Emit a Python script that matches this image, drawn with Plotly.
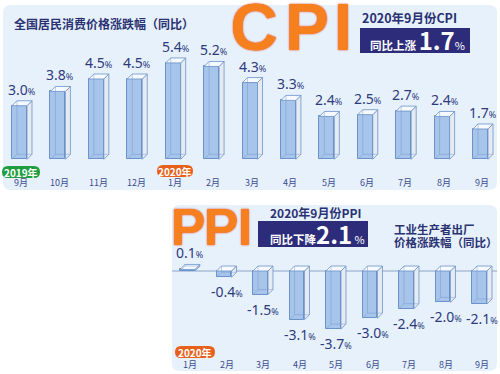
import plotly.graph_objects as go

# ---------------- data ----------------
cpi_months = ["9月", "10月", "11月", "12月", "1月", "2月", "3月", "4月", "5月", "6月", "7月", "8月", "9月"]
cpi_values = [3.0, 3.8, 4.5, 4.5, 5.4, 5.2, 4.3, 3.3, 2.4, 2.5, 2.7, 2.4, 1.7]
cpi_year_marks = {0: "2019年", 4: "2020年"}

ppi_months = ["1月", "2月", "3月", "4月", "5月", "6月", "7月", "8月", "9月"]
ppi_values = [0.1, -0.4, -1.5, -3.1, -3.7, -3.0, -2.4, -2.0, -2.1]
ppi_year_marks = {0: "2020年"}

cpi_title = "全国居民消费价格涨跌幅（同比）"
cpi_head = "2020年9月份CPI"
cpi_box_lead, cpi_box_value = "同比上涨", "1.7"
ppi_head = "2020年9月份PPI"
ppi_box_lead, ppi_box_value = "同比下降", "2.1"
ppi_title_lines = ["工业生产者出厂", "价格涨跌幅（同比）"]

# ---------------- style ----------------
W, H = 500, 374
NAVY = "#2b3172"
BOX = "#2d2c7a"
LABEL = "#2e3a7c"
MONTH = "#3d4b8e"
PANEL = "#e6f1fc"
FRONT = "#a7c5ea"
EDGE = "#6b92c9"
SIDE = "#e6ebf2"
TOP = "#f6f9fd"
ORANGE = "#f7801e"
CJK = "Noto Sans CJK SC"
NUM = "Noto Sans, Noto Sans CJK SC"


def X(p):
    return p / W


def Y(p):
    return 1 - p / H


def rrect(x0, y0, x1, y1, r):
    def P(x, y):
        return f"{X(x):.5f},{Y(y):.5f}"
    return (f"M {P(x0 + r, y0)} L {P(x1 - r, y0)} Q {P(x1, y0)} {P(x1, y0 + r)} "
            f"L {P(x1, y1 - r)} Q {P(x1, y1)} {P(x1 - r, y1)} L {P(x0 + r, y1)} "
            f"Q {P(x0, y1)} {P(x0, y1 - r)} L {P(x0, y0 + r)} Q {P(x0, y0)} {P(x0 + r, y0)} Z")


def note(x, y, text, size, color, family=CJK, xanchor="center", yanchor="middle"):
    return dict(x=X(x), y=Y(y), xref="paper", yref="paper", text=text, showarrow=False,
                xanchor=xanchor, yanchor=yanchor, font=dict(family=family, size=size, color=color))


fig = go.Figure()
shapes = []
annotations = []

# panels
shapes.append(dict(type="path", path=rrect(3, 5, 497, 190, 8), xref="paper", yref="paper",
                   fillcolor=PANEL, line=dict(width=0), layer="below"))
shapes.append(dict(type="path", path=rrect(172, 205, 497, 371, 8), xref="paper", yref="paper",
                   fillcolor=PANEL, line=dict(width=0), layer="below"))


def add_bars(values, xa, ya, width, dx, dy):
    n = len(values)
    xs = list(range(n))
    sx, sy, tx, ty, bx, by = [], [], [], [], [], []
    for i, v in enumerate(values):
        lo, hi = min(0, v), max(0, v)
        xl, xr = i - width / 2, i + width / 2
        sx += [xr, xr + dx, xr + dx, xr, xr, None]
        sy += [lo, lo + dy, hi + dy, hi, lo, None]
        tx += [xl, xr, xr + dx, xl + dx, xl, None]
        ty += [hi, hi, hi + dy, hi + dy, hi, None]
        bx += [xl + dx, xl + dx, xr + dx, None, xl, xl + dx, None]
        by += [hi + dy, lo + dy, lo + dy, None, lo, lo + dy, None]
    fig.add_trace(go.Scatter(x=sx, y=sy, mode="lines", fill="toself", fillcolor=SIDE,
                             line=dict(color=EDGE, width=0.8), xaxis=xa, yaxis=ya, hoverinfo="skip"))
    fig.add_trace(go.Scatter(x=tx, y=ty, mode="lines", fill="toself", fillcolor=TOP,
                             line=dict(color=EDGE, width=0.8), xaxis=xa, yaxis=ya, hoverinfo="skip"))
    fig.add_trace(go.Bar(x=xs, y=values, width=width, marker=dict(color=FRONT, line=dict(color=EDGE, width=1)),
                         xaxis=xa, yaxis=ya, hoverinfo="skip"))
    fig.add_trace(go.Scatter(x=bx, y=by, mode="lines", line=dict(color=EDGE, width=0.6),
                             xaxis=xa, yaxis=ya, hoverinfo="skip", opacity=0.7))


C_W, C_DX, C_DY = 0.39, 0.13, 0.28
add_bars(cpi_values, "x", "y", C_W, C_DX, C_DY)
P_W, P_DX, P_DY = 0.41, 0.137, 0.318
add_bars(ppi_values, "x2", "y2", P_W, P_DX, P_DY)

shapes.append(dict(type="line", xref="paper", yref="y2", x0=X(172), x1=X(497), y0=0, y1=0,
                   line=dict(color="#8ea5c6", width=1), layer="below"))


def pct(v):
    return f"{v:.1f}<span style='font-size:9px'>%</span>"


for i, v in enumerate(cpi_values):
    annotations.append(dict(x=i + C_DX / 2, y=v + C_DY, xref="x", yref="y", text=pct(v), showarrow=False,
                            xanchor="center", yanchor="bottom", yshift=0,
                            font=dict(family=NUM, size=14, color=LABEL)))
    annotations.append(dict(x=i + C_DX / 3, y=Y(183), xref="x", yref="paper", text=cpi_months[i], showarrow=False,
                            xanchor="center", yanchor="middle", font=dict(family=CJK, size=9, color=MONTH)))

for i, v in enumerate(ppi_values):
    if v >= 0:
        annotations.append(dict(x=i + P_DX / 2, y=v + P_DY, xref="x2", yref="y2", text=pct(v), showarrow=False,
                                xanchor="center", yanchor="bottom", yshift=0,
                                font=dict(family=NUM, size=14, color=LABEL)))
    else:
        annotations.append(dict(x=i + P_DX / 2, y=v, xref="x2", yref="y2", text=pct(v), showarrow=False,
                                xanchor="center", yanchor="top", yshift=-3,
                                font=dict(family=NUM, size=14, color=LABEL)))
    annotations.append(dict(x=i + P_DX / 2, y=Y(364), xref="x2", yref="paper", text=ppi_months[i], showarrow=False,
                            xanchor="center", yanchor="middle", font=dict(family=CJK, size=9, color=MONTH)))

badges = [(cpi_year_marks[0], 2, 166, 40, 178, "#1f9d3f"),
          (cpi_year_marks[4], 157, 165, 193, 177, "#e7611d"),
          (ppi_year_marks[0], 175, 346, 215, 358, "#e7611d")]
for txt, x0, y0, x1, y1, col in badges:
    shapes.append(dict(type="path", path=rrect(x0, y0, x1, y1, 6), xref="paper", yref="paper",
                       fillcolor=col, line=dict(width=0)))
    annotations.append(note((x0 + x1) / 2, (y0 + y1) / 2, f"<b>{txt}</b>", 10, "white"))

annotations.append(note(12, 23, f"<b>{cpi_title}</b>", 12, NAVY, xanchor="left"))

# big CPI / PPI letters as a text trace on a pixel-space helper axis
letters = [("C", 254, 33, 66), ("P", 307, 33, 66), ("I", 343, 33, 66),
           ("P", 188, 232, 52), ("P", 221, 232, 52), ("I", 245, 232, 52)]
fig.add_trace(go.Scatter(x=[l[1] for l in letters], y=[l[2] for l in letters], mode="text",
                         text=[f"<b>{l[0]}</b>" for l in letters], textposition="middle center",
                         textfont=dict(family="Liberation Sans", size=[l[3] for l in letters], color=ORANGE,
                                       shadow="0px 0px 2px #e3341b"),
                         xaxis="x3", yaxis="y3", hoverinfo="skip"))

annotations.append(note(360, 18, f"<b>{cpi_head}</b>", 12.5, NAVY, xanchor="left"))
shapes.append(dict(type="rect", xref="paper", yref="paper", x0=X(360), x1=X(470), y0=Y(28), y1=Y(53),
                   fillcolor=BOX, line=dict(width=0), layer="below"))
annotations.append(note(368, 40, f"<b>{cpi_box_lead} </b><span style='font-size:24px'><b>{cpi_box_value}</b></span>"
                                 f"<span style='font-size:11px'>%</span>", 11.5, "white", xanchor="left"))

annotations.append(note(268, 213, f"<b>{ppi_head}</b>", 12, NAVY, xanchor="left"))
shapes.append(dict(type="rect", xref="paper", yref="paper", x0=X(258), x1=X(368), y0=Y(221), y1=Y(247),
                   fillcolor=BOX, line=dict(width=0), layer="below"))
annotations.append(note(268, 234, f"<b>{ppi_box_lead}</b><span style='font-size:24px'><b>{ppi_box_value}</b></span>"
                                  f"<span style='font-size:11px'> %</span>", 11.5, "white", xanchor="left"))
for k, line in enumerate(ppi_title_lines):
    annotations.append(note(392, 229 + 13 * k, f"<b>{line}</b>", 11.5, NAVY, xanchor="left"))

ax = dict(visible=False, fixedrange=True)
fig.update_layout(
    width=W, height=H, autosize=False, margin=dict(l=0, r=0, t=0, b=0, pad=0),
    paper_bgcolor="white", plot_bgcolor="rgba(0,0,0,0)", showlegend=False,
    xaxis=dict(domain=[0, 1], range=[-19.5 / 38.42, 480.5 / 38.42], anchor="y", **ax),
    yaxis=dict(domain=[0, 1], range=[-(374 - 159.3) / 17.85, 159.3 / 17.85], anchor="x", **ax),
    xaxis2=dict(domain=[0, 1], range=[-187.5 / 36.5, 312.5 / 36.5], anchor="y2", **ax),
    yaxis2=dict(domain=[0, 1], range=[-(374 - 271) / 15.7, 271 / 15.7], anchor="x2", **ax),
    xaxis3=dict(domain=[0, 1], range=[0, W], anchor="y3", **ax),
    yaxis3=dict(domain=[0, 1], range=[H, 0], anchor="x3", **ax),
    shapes=shapes, annotations=annotations, bargap=0,
)

fig.write_html("out.html", config=dict(responsive=False, displayModeBar=False),
               post_script="document.body.style.margin='0';document.body.style.overflow='hidden';")
